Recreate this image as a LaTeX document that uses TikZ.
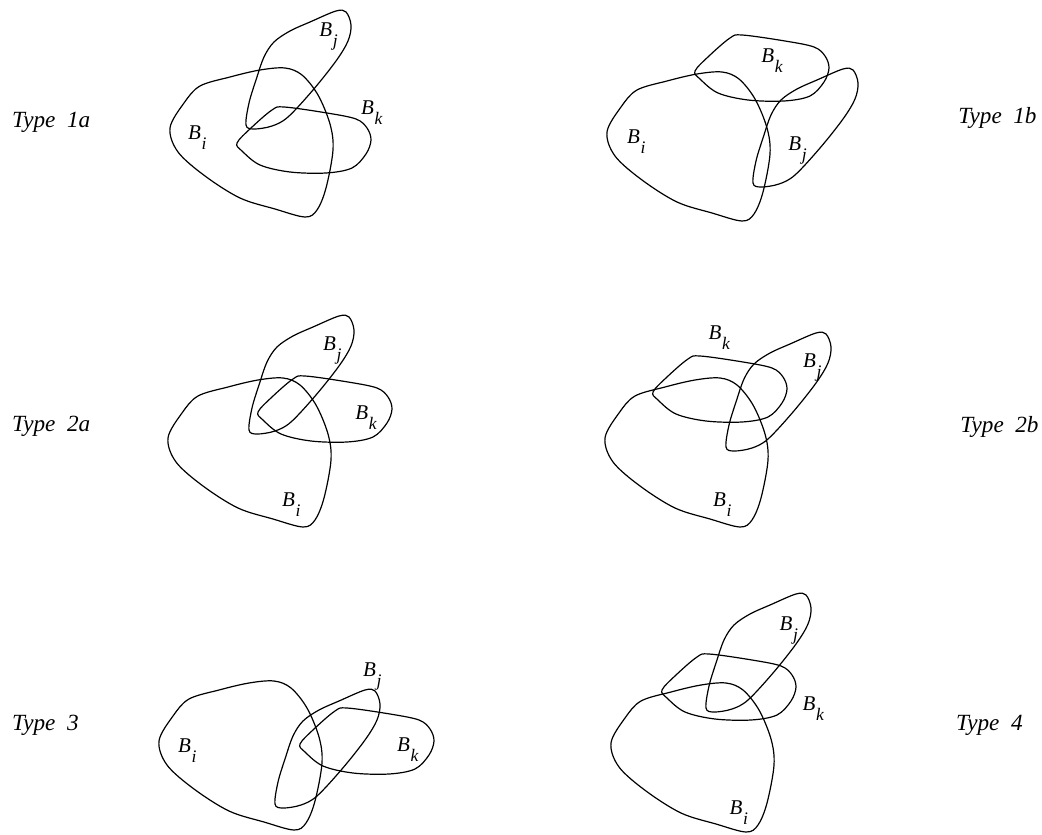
\documentclass[tikz,border=0pt]{standalone}
\usepackage{fontspec}
\setmainfont{Liberation Serif}
\newcommand\bsub[1]{B\kern0.3pt\raisebox{-5pt}{\fontsize{8.8}{9}\selectfont #1}}
\begin{document}
\begin{tikzpicture}[
        x=0.5pt, y=-0.5pt,
        every node/.style={inner sep=0pt, anchor=base west},
        typelab/.style={font=\fontsize{11.6}{13}\selectfont\itshape},
        blab/.style={font=\fontsize{10.5}{12}\selectfont\itshape},
        outline/.style={line width=0.6pt, black},
        blobi/.pic={\draw[outline] plot[smooth cycle, tension=0.55] coordinates {
            (170,128) (184,103) (200,86) (230,77) (260,70) (285,68) (302,75) (318,95)
            (330,124) (333,150) (326,188) (317,210) (305,217) (275,209) (240,198) (205,176) (178,152)};},
        blobj/.pic={\draw[outline] plot[smooth cycle, tension=0.55] coordinates {
            (246,125) (249,103) (256,80) (264,57) (274,42) (290,31) (310,22) (336,11)
            (346,12) (351,25) (348,41) (336,61) (313,90) (288,117) (272,126) (254,129)};},
        blobk/.pic={\draw[outline] plot[smooth cycle, tension=0.55] coordinates {
            (237,143) (251,128) (272,110) (284,107) (327,113) (356,119) (367,128)
            (371,140) (366,154) (352,168) (326,173) (290,172) (260,165) (242,151)};}
    ]
    \useasboundingbox (0,0) rectangle (1042,834);

    \pic at (0,0) {blobi};
    \pic at (0,0) {blobj};
    \pic at (0,0) {blobk};
    \node[blab] (bi1a) at (187.7,140) {\bsub{i}};
    \node[blab] (bj1a) at (319,36.7) {\bsub{j}};
    \node[blab] (bk1a) at (360.7,115) {\bsub{k}};
    \node[typelab] (t1a) at (11.7,128) {Type\ \ 1a};

    \pic at (437,4) {blobi};
    \pic at (507,58) {blobj};
    \pic at (458,-72) {blobk};
    \node[blab] (bi1b) at (626.7,144) {\bsub{i}};
    \node[blab] (bj1b) at (788,150.7) {\bsub{j}};
    \node[blab] (bk1b) at (761,62.3) {\bsub{k}};
    \node[typelab] (t1b) at (958,124) {Type\ \ 1b};

    \pic at (-2,310) {blobi};
    \pic at (3,305) {blobj};
    \pic at (21,269) {blobk};
    \node[blab] (bi2a) at (281.7,506.7) {\bsub{i}};
    \node[blab] (bj2a) at (322.7,350) {\bsub{j}};
    \node[blab] (bk2a) at (355,419.3) {\bsub{k}};
    \node[typelab] (t2a) at (11.7,431) {Type\ \ 2a};

    \pic at (435,310) {blobi};
    \pic at (480,322) {blobj};
    \pic at (416,249) {blobk};
    \node[blab] (bi2b) at (712.7,506.7) {\bsub{i}};
    \node[blab] (bj2b) at (802.7,367.3) {\bsub{j}};
    \node[blab] (bk2b) at (708.3,339) {\bsub{k}};
    \node[typelab] (t2b) at (960,432) {Type\ \ 2b};

    \pic at (-11,613) {blobi};
    \pic at (29,679) {blobj};
    \pic at (63,601) {blobk};
    \node[blab] (bi3) at (177.7,752.7) {\bsub{i}};
    \node[blab] (bj3) at (362.7,676.7) {\bsub{j}};
    \node[blab] (bk3) at (396.7,751) {\bsub{k}};
    \node[typelab] (t3) at (11.7,730) {Type\ \ 3};

    \pic at (441,615) {blobi};
    \pic at (460,583) {blobj};
    \pic at (425,547) {blobk};
    \node[blab] (bi4) at (729.3,814) {\bsub{i}};
    \node[blab] (bj4) at (779.3,630) {\bsub{j}};
    \node[blab] (bk4) at (802.3,710) {\bsub{k}};
    \node[typelab] (t4) at (955.7,730) {Type\ \ 4};
\end{tikzpicture}
\end{document}
